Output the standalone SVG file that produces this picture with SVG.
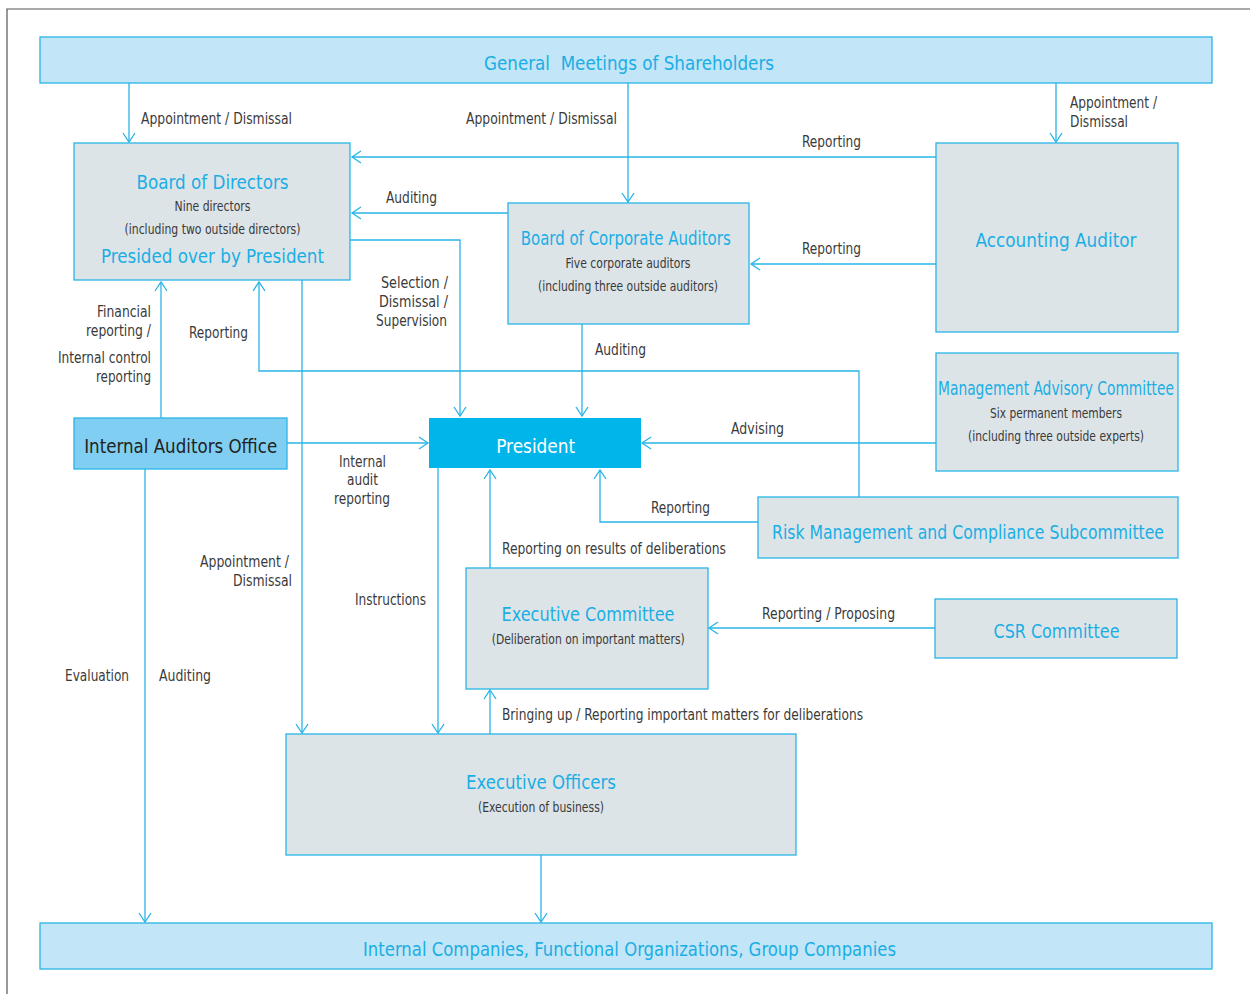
<svg xmlns="http://www.w3.org/2000/svg" width="1250" height="994" viewBox="0 0 1250 994">
<style>
.box{fill:#dde4e8;stroke:#29b4e6;stroke-width:1.3}
.band{fill:#c2e5f7;stroke:#29b4e6;stroke-width:1.3}
.t{font-family:"DejaVu Sans Condensed","DejaVu Sans","Liberation Sans",sans-serif;font-stretch:condensed}
.ttl{font-size:20px;fill:#1aaee4;text-anchor:middle}
.sub{font-size:13.5px;fill:#3a3a3a;text-anchor:middle}
.lbl{font-size:16px;fill:#3a3a3a}
.c{text-anchor:middle}.e{text-anchor:end}
.ln{fill:none;stroke:#29b4e6;stroke-width:1.3}
</style>
<defs>
<marker id="ar" markerUnits="userSpaceOnUse" markerWidth="12" markerHeight="14" refX="9" refY="6" orient="auto" overflow="visible">
<path d="M0,0 L9,6 L0,12" fill="none" stroke="#29b4e6" stroke-width="1.3"/>
</marker>
</defs>
<rect width="1250" height="994" fill="#fff"/>
<path d="M7,994 V9 H1250" fill="none" stroke="#555" stroke-width="1.2"/>

<g id="connectors">
<path class="ln" d="M129,83 V142" marker-end="url(#ar)"/>
<path class="ln" d="M628,83 V202" marker-end="url(#ar)"/>
<path class="ln" d="M1056,83 V142" marker-end="url(#ar)"/>
<path class="ln" d="M936,157 H352" marker-end="url(#ar)"/>
<path class="ln" d="M508,213 H352" marker-end="url(#ar)"/>
<path class="ln" d="M936,264 H751" marker-end="url(#ar)"/>
<path class="ln" d="M350,240 H460 V416" marker-end="url(#ar)"/>
<path class="ln" d="M582,324 V416" marker-end="url(#ar)"/>
<path class="ln" d="M161,418 V282" marker-end="url(#ar)"/>
<path class="ln" d="M859,497 V371 H259 V282" marker-end="url(#ar)"/>
<path class="ln" d="M302,280 V733" marker-end="url(#ar)"/>
<path class="ln" d="M287,443 H428" marker-end="url(#ar)"/>
<path class="ln" d="M936,443 H642" marker-end="url(#ar)"/>
<path class="ln" d="M758,522 H600 V470" marker-end="url(#ar)"/>
<path class="ln" d="M490,568 V470" marker-end="url(#ar)"/>
<path class="ln" d="M438,468 V733" marker-end="url(#ar)"/>
<path class="ln" d="M935,628 H709" marker-end="url(#ar)"/>
<path class="ln" d="M490,734 V690" marker-end="url(#ar)"/>
<path class="ln" d="M145,469 V922" marker-end="url(#ar)"/>
<path class="ln" d="M541,855 V922" marker-end="url(#ar)"/>

<g class="t lbl">
<text x="141" y="124" textLength="151" lengthAdjust="spacingAndGlyphs">Appointment / Dismissal</text>
<text x="466" y="124" textLength="151" lengthAdjust="spacingAndGlyphs">Appointment / Dismissal</text>
<text x="1070" y="108" textLength="87" lengthAdjust="spacingAndGlyphs">Appointment /</text>
<text x="1070" y="127" textLength="58" lengthAdjust="spacingAndGlyphs">Dismissal</text>
<text x="802" y="147" textLength="59" lengthAdjust="spacingAndGlyphs">Reporting</text>
<text x="386" y="203" textLength="51" lengthAdjust="spacingAndGlyphs">Auditing</text>
<text x="802" y="254" textLength="59" lengthAdjust="spacingAndGlyphs">Reporting</text>
<text x="381" y="288" textLength="67" lengthAdjust="spacingAndGlyphs">Selection /</text>
<text x="379" y="307" textLength="69" lengthAdjust="spacingAndGlyphs">Dismissal /</text>
<text x="376" y="326" textLength="71" lengthAdjust="spacingAndGlyphs">Supervision</text>
<text x="595" y="355" textLength="51" lengthAdjust="spacingAndGlyphs">Auditing</text>
<text x="97" y="317" textLength="54" lengthAdjust="spacingAndGlyphs">Financial</text>
<text x="86" y="336" textLength="65" lengthAdjust="spacingAndGlyphs">reporting /</text>
<text x="58" y="363" textLength="93" lengthAdjust="spacingAndGlyphs">Internal control</text>
<text x="96" y="382" textLength="55" lengthAdjust="spacingAndGlyphs">reporting</text>
<text x="189" y="338" textLength="59" lengthAdjust="spacingAndGlyphs">Reporting</text>
<text x="731" y="434" textLength="53" lengthAdjust="spacingAndGlyphs">Advising</text>
<text x="339" y="467" textLength="47" lengthAdjust="spacingAndGlyphs">Internal</text>
<text x="347" y="485" textLength="31" lengthAdjust="spacingAndGlyphs">audit</text>
<text x="334" y="504" textLength="56" lengthAdjust="spacingAndGlyphs">reporting</text>
<text x="651" y="513" textLength="59" lengthAdjust="spacingAndGlyphs">Reporting</text>
<text x="502" y="554" textLength="224" lengthAdjust="spacingAndGlyphs">Reporting on results of deliberations</text>
<text x="200" y="567" textLength="89" lengthAdjust="spacingAndGlyphs">Appointment /</text>
<text x="233" y="586" textLength="59" lengthAdjust="spacingAndGlyphs">Dismissal</text>
<text x="355" y="605" textLength="71" lengthAdjust="spacingAndGlyphs">Instructions</text>
<text x="762" y="619" textLength="133" lengthAdjust="spacingAndGlyphs">Reporting / Proposing</text>
<text x="65" y="681" textLength="64" lengthAdjust="spacingAndGlyphs">Evaluation</text>
<text x="159" y="681" textLength="52" lengthAdjust="spacingAndGlyphs">Auditing</text>
<text x="502" y="720" textLength="361" lengthAdjust="spacingAndGlyphs">Bringing up / Reporting important matters for deliberations</text>
</g>
</g>

<g id="gms">
<rect class="band" x="40" y="37" width="1172" height="46"/>
<text class="t ttl" x="629" y="70" xml:space="preserve" textLength="290" lengthAdjust="spacingAndGlyphs">General  Meetings of Shareholders</text>
</g>
<g id="board-of-directors">
<rect class="box" x="74" y="143" width="276" height="137"/>
<text class="t ttl" x="212.5" y="189" textLength="152" lengthAdjust="spacingAndGlyphs">Board of Directors</text>
<text class="t sub" x="212.5" y="211" textLength="76" lengthAdjust="spacingAndGlyphs">Nine directors</text>
<text class="t sub" x="212.5" y="234" textLength="176" lengthAdjust="spacingAndGlyphs">(including two outside directors)</text>
<text class="t ttl" x="212.5" y="263" textLength="223" lengthAdjust="spacingAndGlyphs">Presided over by President</text>
</g>
<g id="board-of-corporate-auditors">
<rect class="box" x="508" y="203" width="241" height="121"/>
<text class="t ttl" x="625.7" y="245" textLength="210" lengthAdjust="spacingAndGlyphs">Board of Corporate Auditors</text>
<text class="t sub" x="628" y="268" textLength="125" lengthAdjust="spacingAndGlyphs">Five corporate auditors</text>
<text class="t sub" x="628" y="291" textLength="180" lengthAdjust="spacingAndGlyphs">(including three outside auditors)</text>
</g>
<g id="accounting-auditor">
<rect class="box" x="936" y="143" width="242" height="189"/>
<text class="t ttl" x="1056" y="247" textLength="161" lengthAdjust="spacingAndGlyphs">Accounting Auditor</text>
</g>
<g id="management-advisory-committee">
<rect class="box" x="936" y="353" width="242" height="118"/>
<text class="t ttl" x="1056" y="395" font-size="18.5" textLength="236" lengthAdjust="spacingAndGlyphs">Management Advisory Committee</text>
<text class="t sub" x="1056" y="418" textLength="132" lengthAdjust="spacingAndGlyphs">Six permanent members</text>
<text class="t sub" x="1056" y="441" textLength="176" lengthAdjust="spacingAndGlyphs">(including three outside experts)</text>
</g>
<g id="risk-management">
<rect class="box" x="758" y="497" width="420" height="61"/>
<text class="t ttl" x="968" y="539" font-size="19.5" textLength="392" lengthAdjust="spacingAndGlyphs">Risk Management and Compliance Subcommittee</text>
</g>
<g id="csr-committee">
<rect class="box" x="935" y="599" width="242" height="59"/>
<text class="t ttl" x="1056.5" y="638" textLength="126" lengthAdjust="spacingAndGlyphs">CSR Committee</text>
</g>
<g id="internal-auditors-office">
<rect x="74" y="418" width="213" height="51" fill="#80cff2" stroke="#29b4e6" stroke-width="1.3"/>
<text class="t" x="180.7" y="453" font-size="20" fill="#222" text-anchor="middle" textLength="193" lengthAdjust="spacingAndGlyphs">Internal Auditors Office</text>
</g>
<g id="president">
<rect x="429" y="418" width="212" height="50" fill="#00b5e9"/>
<text class="t" x="535.7" y="453" font-size="20" fill="#fff" text-anchor="middle" textLength="79" lengthAdjust="spacingAndGlyphs">President</text>
</g>
<g id="executive-committee">
<rect class="box" x="466" y="568" width="242" height="121"/>
<text class="t ttl" x="588" y="621" textLength="173" lengthAdjust="spacingAndGlyphs">Executive Committee</text>
<text class="t sub" x="588.2" y="644" textLength="193" lengthAdjust="spacingAndGlyphs">(Deliberation on important matters)</text>
</g>
<g id="executive-officers">
<rect class="box" x="286" y="734" width="510" height="121"/>
<text class="t ttl" x="541" y="789" textLength="150" lengthAdjust="spacingAndGlyphs">Executive Officers</text>
<text class="t sub" x="541" y="812" textLength="126" lengthAdjust="spacingAndGlyphs">(Execution of business)</text>
</g>
<g id="internal-companies">
<rect class="band" x="40" y="923" width="1172" height="46"/>
<text class="t ttl" x="629.5" y="956" textLength="533" lengthAdjust="spacingAndGlyphs">Internal Companies, Functional Organizations, Group Companies</text>
</g>
</svg>
